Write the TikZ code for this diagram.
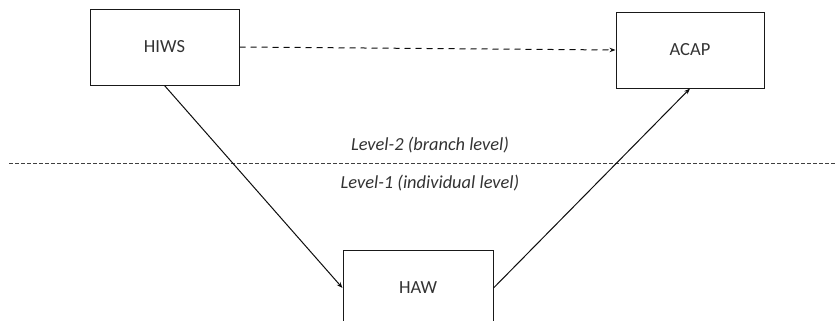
\documentclass[tikz,border=0pt]{standalone}
\usepackage{fontspec}
\setmainfont{Carlito}
\usetikzlibrary{arrows.meta}
\begin{document}
\begin{tikzpicture}[x=1bp,y=-1bp,
  box/.style={draw=black!90,line width=1bp,minimum width=149bp,minimum height=76bp,inner sep=0pt,
    font=\fontsize{18.5bp}{22bp}\selectfont,text=black!80},
  lbl/.style={font=\fontsize{18.4bp}{21bp}\selectfont\itshape,text=black!80,inner sep=0pt},
  conn/.style={draw=black!95,line width=1bp,-{Stealth[length=6bp,width=4.5bp]}},
  sep/.style={draw=black!75,line width=1bp,dash pattern=on 3.5bp off 2.5bp}]
\useasboundingbox (0,0) rectangle (836,320);
\node[box] (hiws) at (164.5,47) {HIWS};
\node[box,minimum width=148bp] (acap) at (690,50) {ACAP};
\node[box,minimum width=150bp] (haw) at (418,288) {HAW};
\coordinate (sl) at (9,163);
\coordinate (sr) at (836,163);
\draw[sep] (sl) -- (sr);
\node[lbl] (l2) at (430,145) {Level-2 (branch level)};
\node[lbl] (l1) at (430,183) {Level-1 (individual level)};
\draw[conn,dash pattern=on 6bp off 5bp] (hiws.east) -- (acap.west);
\draw[conn] (hiws.south) -- (haw.west);
\draw[conn] (haw.east) -- (acap.south);
\end{tikzpicture}
\end{document}
